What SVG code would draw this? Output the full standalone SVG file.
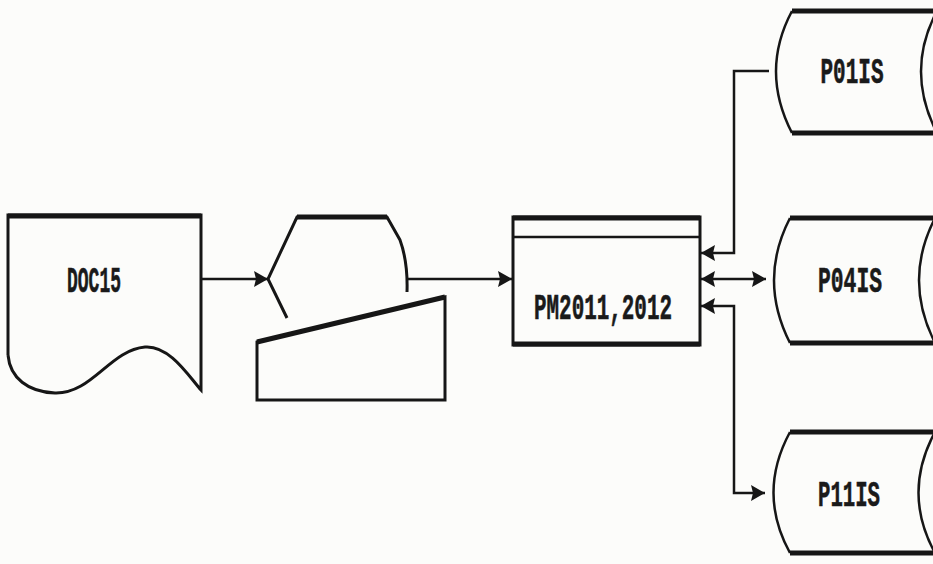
<svg xmlns="http://www.w3.org/2000/svg" width="933" height="564" viewBox="0 0 933 564">
<style>
.bg{fill:#fcfcfa}
.sh{fill:none;stroke:#161616;stroke-width:3;stroke-linejoin:miter}
.thick{fill:none;stroke:#161616;stroke-width:5}
.thin{fill:none;stroke:#161616;stroke-width:2.5}
.cn{fill:none;stroke:#161616;stroke-width:2.5}
.lbl{font-family:"Liberation Mono","DejaVu Sans Mono",monospace;font-weight:bold;font-size:36px;fill:#1a1a1a;stroke:#1a1a1a;stroke-width:0.6}
</style>
<defs>
<marker id="ah" viewBox="0 0 14 16" refX="14" refY="8" markerWidth="14" markerHeight="16" markerUnits="userSpaceOnUse" orient="auto-start-reverse">
<path d="M0,0 L14,8 L0,16 L2,8 Z" fill="#161616"/>
</marker>
</defs>
<rect class="bg" x="0" y="0" width="933" height="564"/>

<g id="doc15">
<path class="sh" d="M8,355 V215 H201 V390 C190,378 170,345 145,347 C110,350 92,394 55,393 C28,392 10,378 8,355"/>
<line class="thick" x1="8" y1="216" x2="201" y2="216"/>
<text class="lbl" x="94" y="292" text-anchor="middle" textLength="54" lengthAdjust="spacingAndGlyphs">DOC15</text>
</g>

<g id="input">
<path class="sh" d="M287,318 L268,279 L297,217 H387 L400,240 Q408,262 407,292"/>
<line class="thick" x1="297" y1="217" x2="387" y2="217"/>
<path class="sh" d="M257,400 V342 L445,297 V400 Z"/>
<line class="thick" x1="257" y1="342" x2="445" y2="297"/>
</g>

<g id="pm2011">
<rect class="sh" x="513" y="217" width="187" height="128"/>
<line class="thick" x1="513" y1="218" x2="700" y2="218"/>
<line class="thick" x1="513" y1="344" x2="700" y2="344"/>
<line class="thin" x1="513" y1="237" x2="700" y2="237"/>
<text class="lbl" x="603" y="319" text-anchor="middle" textLength="138" lengthAdjust="spacingAndGlyphs">PM2011,2012</text>
</g>

<g id="p01is">
<path class="thin" d="M792,11 Q760,71 792,133"/>
<path class="thin" d="M937,11 Q905,71 937,133"/>
<line class="thick" x1="792" y1="11" x2="935" y2="11"/>
<line class="thick" x1="792" y1="133" x2="935" y2="133"/>
<text class="lbl" x="852" y="83" text-anchor="middle" textLength="63" lengthAdjust="spacingAndGlyphs">P01IS</text>
</g>

<g id="p04is">
<path class="thin" d="M790,218 Q758,280 790,343"/>
<path class="thin" d="M935,218 Q903,280 935,343"/>
<line class="thick" x1="790" y1="218" x2="935" y2="218"/>
<line class="thick" x1="790" y1="343" x2="935" y2="343"/>
<text class="lbl" x="850" y="292" text-anchor="middle" textLength="64" lengthAdjust="spacingAndGlyphs">P04IS</text>
</g>

<g id="p11is">
<path class="thin" d="M790,432 Q757,493 790,553"/>
<path class="thin" d="M935,432 Q902,493 935,553"/>
<line class="thick" x1="790" y1="432" x2="935" y2="432"/>
<line class="thick" x1="790" y1="553" x2="935" y2="553"/>
<text class="lbl" x="849" y="506" text-anchor="middle" textLength="62" lengthAdjust="spacingAndGlyphs">P11IS</text>
</g>

<g id="connectors">
<line class="cn" x1="201" y1="279" x2="268" y2="279" marker-end="url(#ah)"/>
<line class="cn" x1="407" y1="279" x2="512" y2="279" marker-end="url(#ah)"/>
<polyline class="cn" points="769,71 734,71 734,253 701,253" marker-end="url(#ah)"/>
<line class="cn" x1="701" y1="279" x2="766" y2="279" marker-start="url(#ah)" marker-end="url(#ah)"/>
<polyline class="cn" points="701,306 734,306 734,493 765,493" marker-start="url(#ah)" marker-end="url(#ah)"/>
</g>
</svg>
